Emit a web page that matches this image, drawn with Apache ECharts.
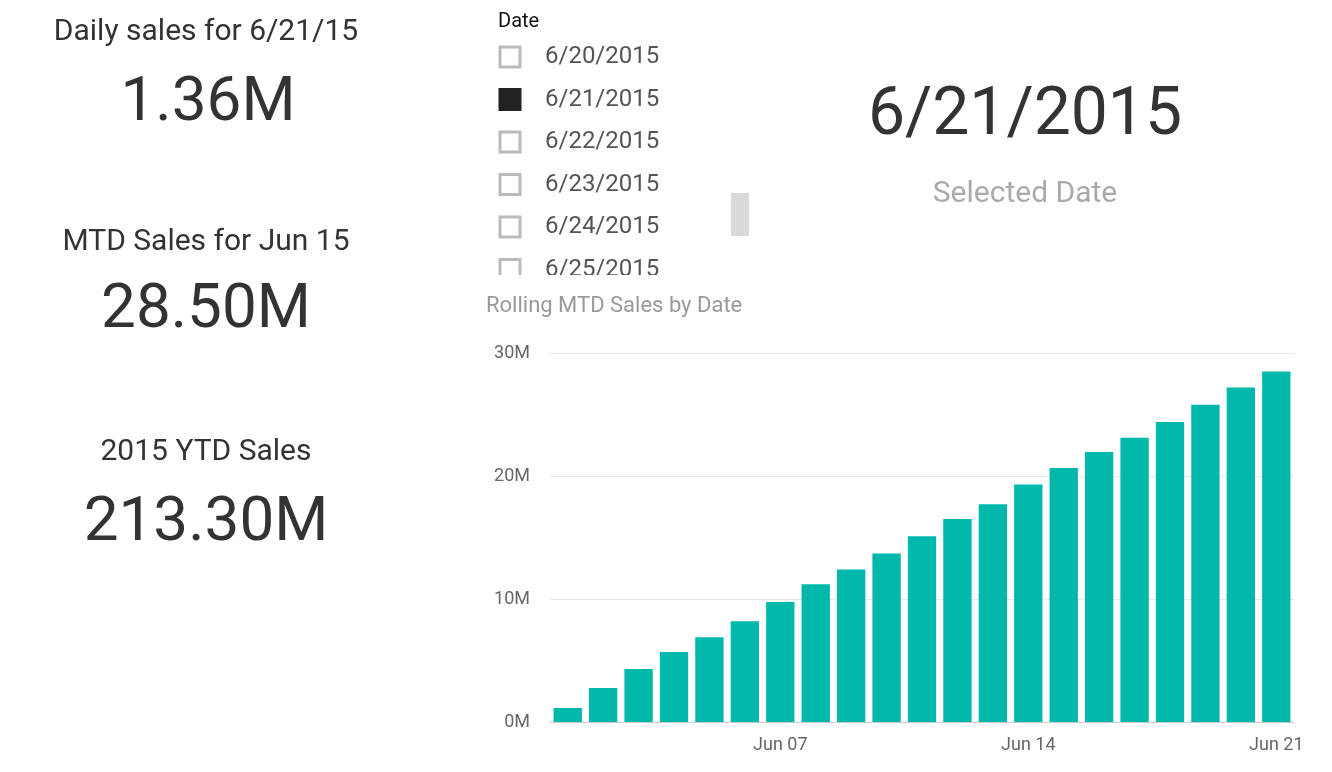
<!DOCTYPE html>
<html><head><meta charset="utf-8">
<script src="https://cdn.jsdelivr.net/npm/echarts@6/dist/echarts.min.js"></script>
<style>html,body{margin:0;padding:0;background:#fff}#c{width:1332px;height:772px}</style>
</head><body><div id="c"></div>
<script>
const categories = ['Jun 01','Jun 02','Jun 03','Jun 04','Jun 05','Jun 06','Jun 07','Jun 08','Jun 09','Jun 10','Jun 11','Jun 12','Jun 13','Jun 14','Jun 15','Jun 16','Jun 17','Jun 18','Jun 19','Jun 20','Jun 21'];
const mtdSales = [1.14,2.76,4.3,5.7,6.9,8.2,9.76,11.2,12.4,13.7,15.1,16.5,17.7,19.3,20.65,21.95,23.1,24.4,25.8,27.2,28.5];
const slicerDates = ['6/20/2015','6/21/2015','6/22/2015','6/23/2015','6/24/2015','6/25/2015'];
const selectedIndex = 1;
const labelIdx = [6,13,20];

const font = 'Roboto, "DejaVu Sans", sans-serif';
const g = [];
function txt(x,y,t,size,color,align){g.push({type:'text',x:x,y:y,style:{text:t,font:size+'px '+font,fill:color,textAlign:align||'center',textVerticalAlign:'middle'}});}
txt(206,32,'Daily sales for 6/21/15',30,'#333');
txt(208,104,'1.36M',62,'#333');
txt(206,242,'MTD Sales for Jun 15',30,'#333');
txt(206,311,'28.50M',62,'#333');
txt(206,452,'2015 YTD Sales',30,'#333');
txt(206,524,'213.30M',62,'#333');
txt(498,22,'Date',20,'#111','left');
slicerDates.forEach((d,i)=>{
  const y=57+i*42.5;
  g.push({type:'rect',shape:{x:500,y:y-10,width:20,height:20},style:{fill:i===selectedIndex?'#222':'#fff',stroke:i===selectedIndex?'#222':'#bbb',lineWidth:3}});
  txt(545,y,d,24,'#555','left');
});
g.push({type:'rect',shape:{x:0,y:0,width:740,height:275},style:{fill:'none'},silent:true});
g.push({type:'rect',shape:{x:490,y:275,width:230,height:12},style:{fill:'#fff'}});
g.push({type:'rect',shape:{x:731,y:193,width:18,height:43},style:{fill:'#d9d9d9'}});
txt(1025,117,'6/21/2015',66,'#333');
txt(1025,194,'Selected Date',30,'#aaa');

const chart = echarts.init(document.getElementById('c'));
chart.setOption({
  animation:false,
  title:{text:'Rolling MTD Sales by Date',left:481,top:290,textStyle:{fontFamily:font,fontSize:22,fontWeight:'normal',color:'#999'}},
  grid:{left:550,right:38,top:353,bottom:50},
  xAxis:{type:'category',data:categories,axisLine:{lineStyle:{color:'#ccc'}},axisTick:{show:false},
    axisLabel:{interval:(i)=>labelIdx.includes(i),color:'#666',fontFamily:font,fontSize:18,margin:14}},
  yAxis:{type:'value',min:0,max:30,interval:10,axisLabel:{formatter:'{value}M',color:'#666',fontFamily:font,fontSize:18,margin:20},
    splitLine:{lineStyle:{color:'#e8e8e8'}}},
  series:[{type:'bar',data:mtdSales,itemStyle:{color:'#01B8AA'},barCategoryGap:'20%'}],
  graphic:g
});
</script></body></html>
